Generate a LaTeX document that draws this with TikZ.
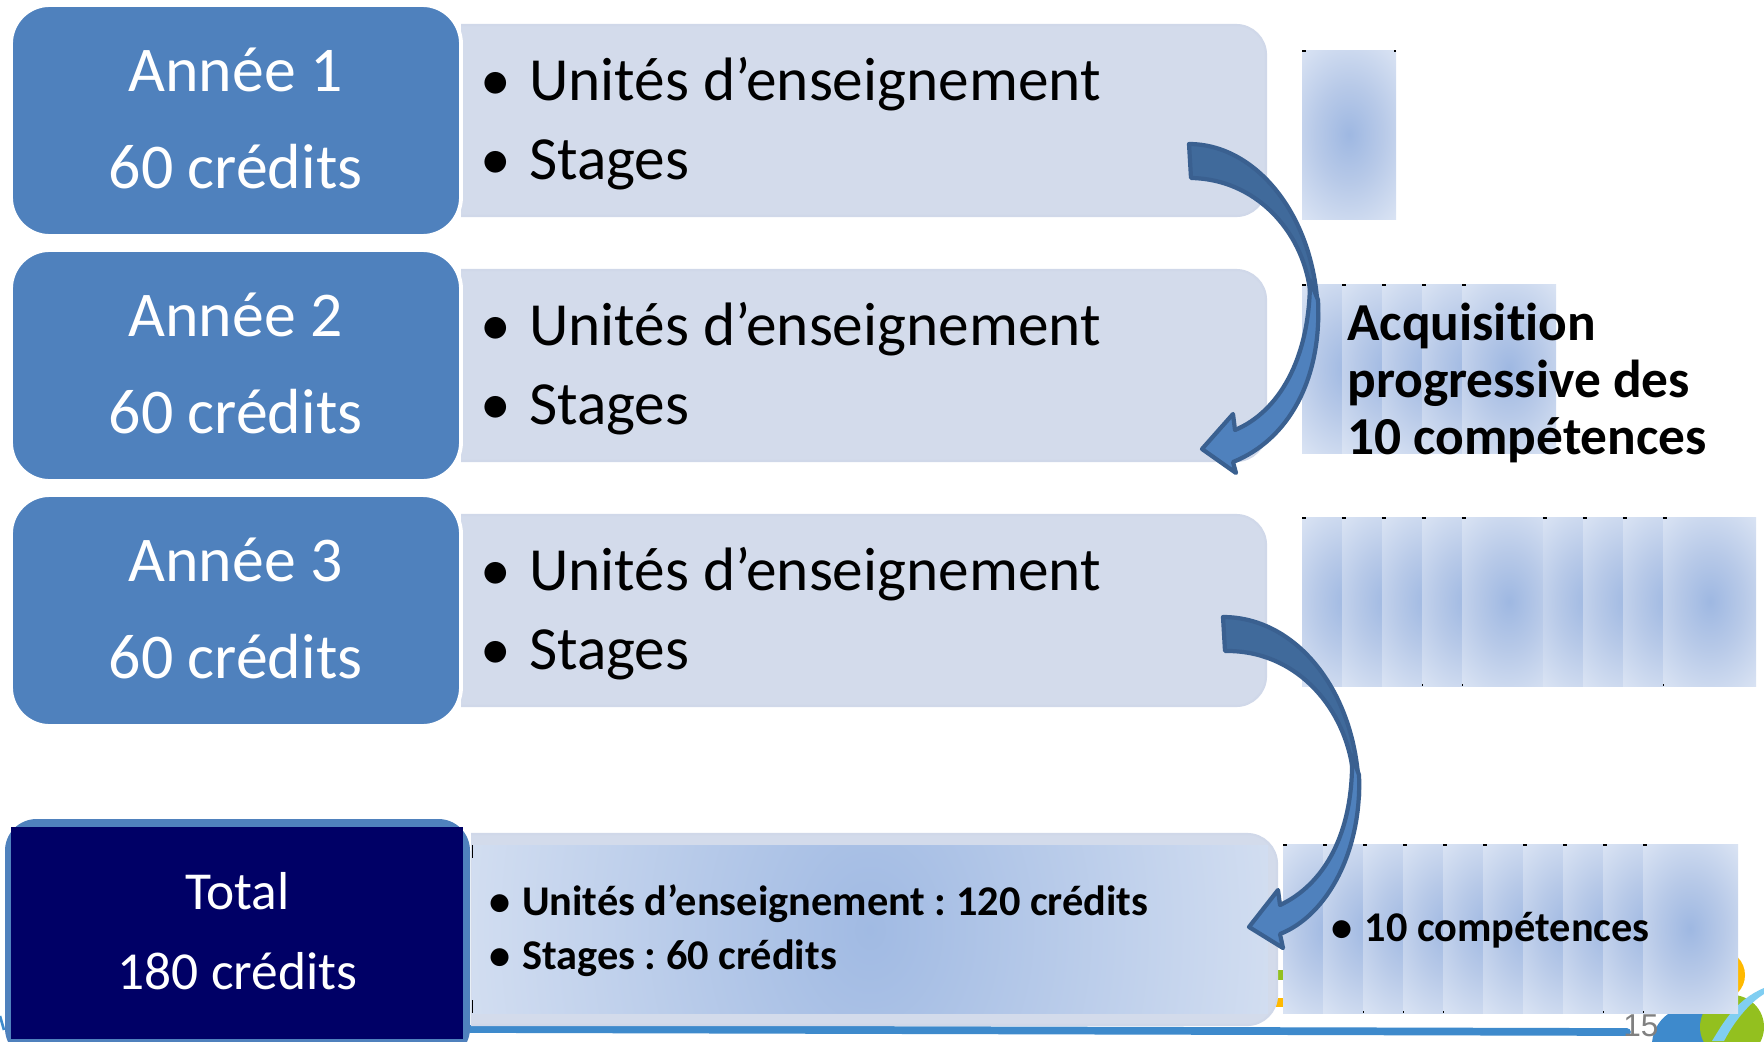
\documentclass[tikz,border=0pt]{standalone}
\usepackage{fontspec}
\setmainfont[Ligatures=NoCommon]{Carlito}
\newfontfamily\numfont{Liberation Sans}
\frenchspacing
\definecolor{boxblue}{HTML}{4F81BD}
\definecolor{navy}{HTML}{000066}
\definecolor{lightbox}{HTML}{D3DBEB}
\definecolor{lightedge}{HTML}{D0D8E9}
\definecolor{arrowedge}{HTML}{3A6090}
\definecolor{arrowdark}{HTML}{406A9B}
\definecolor{logoblue}{HTML}{3E8ACC}
\definecolor{logogreen}{HTML}{93C01F}
\definecolor{logoorange}{HTML}{FFB900}
\definecolor{logosky}{HTML}{80CEF2}
\pgfdeclareradialshading{patchgrad}{\pgfpoint{0bp}{0bp}}{rgb(0bp)=(0.62,0.72,0.885);rgb(14bp)=(0.72,0.79,0.91);rgb(35bp)=(0.885,0.915,0.965);rgb(90bp)=(0.885,0.915,0.965)}
\pgfdeclareradialshading{totalgrad}{\pgfpoint{0bp}{0bp}}{rgb(0bp)=(0.63,0.73,0.89);rgb(33bp)=(0.88,0.91,0.96);rgb(90bp)=(0.88,0.91,0.96)}
\tikzset{
  yearbox/.style={draw=white,line width=2.2pt,fill=boxblue,rounded corners=22pt},
  yeartext/.style={anchor=base,text=white,inner sep=0pt,font=\fontsize{36.3}{40}\selectfont},
  itemtext/.style={anchor=base west,inner sep=0pt,text=black,font=\fontsize{34.9}{40}\selectfont},
  totaltext/.style={anchor=base,text=white,inner sep=0pt,font=\fontsize{30.4}{36}\selectfont},
  boldtext/.style={anchor=base west,inner sep=0pt,text=black,font=\fontsize{24.1}{28}\selectfont\bfseries},
  acqtext/.style={anchor=base west,inner sep=0pt,text=black,font=\fontsize{30.4}{34}\selectfont\bfseries},
  arrowpart/.style={draw=arrowedge,line width=2.4pt,line join=round},
}
% one visible strip of a soft blue patch: left x, top y, right edge of the visible part
\newcommand{\patchstrip}[3]{%
  \begin{scope}
    \clip (#1,#2) rectangle (#3,#2+169);
    \shade[shading=patchgrad] (#1+47-60,#2-3) rectangle (#1+47+60,#2+172);
  \end{scope}
  \fill[black] (#1,#2) rectangle +(3.5,2);
}
\newcommand{\yearrow}[3]{% row offset, label, name
  \path[draw=lightedge,line width=1.2pt,fill=lightbox,rounded corners=17pt]
     (461,#1+25) -- (1266,#1+25) -- (1266,#1+216) -- (461,#1+216);
  \draw[yearbox] (11,#1+5) rectangle (461,#1+236);
  \node[yeartext] (y#3a) at (235.5,#1+91) {Année #2};
  \node[yeartext] (y#3b) at (235.5,#1+188) {60 crédits};
  \node[itemtext] (u#3) at (480,#1+100) {\makebox[27.8pt][l]{•}Unités d’enseignement};
  \node[itemtext] (s#3) at (480,#1+179) {\makebox[27.8pt][l]{•}Stages};
}
\begin{document}
\begin{tikzpicture}[x=0.02cm,y=-0.02cm]
\useasboundingbox (0,0) rectangle (1764,1041);
\fill[white] (0,0) rectangle (1764,1041);
\begin{scope}
\clip (0,0) rectangle (1764,1041);
% slide footer behind the content
\fill[logoorange] (1720,975) circle (25);
\fill[logoblue] (1690,1045) circle (38);
\fill[logogreen] (1732,1027) circle (32);
\fill[logosky] (1764,988) .. controls (1735,1000) and (1722,1025) .. (1712,1041) -- (1724,1041) .. controls (1734,1022) and (1748,1004) .. (1764,994) -- cycle;
\fill[logogreen] (1200,970) rectangle (1290,980);
\fill[logoorange] (1200,998) rectangle (1290,1007);
\draw[logoblue,line width=4.4pt,line cap=round] (470,1029) -- (1627,1032);
\node[anchor=base west,inner sep=0pt,text=black!50,font=\numfont\fontsize{18}{20}\selectfont] (pagenum) at (1623,1036) {15};
\draw[logoblue,line width=1.5pt] (0,1016) -- (4,1030);
% year rows
\yearrow{0}{1}{a}
\yearrow{245}{2}{b}
\yearrow{490}{3}{c}
% total row
\path[fill=boxblue,rounded corners=18pt] (5,819) rectangle (470,1060);
\fill[navy] (11,827) rectangle (463,1039);
\node[totaltext] (t1) at (237.5,909) {Total};
\node[totaltext] (t2) at (237.5,989) {180 crédits};
\path[fill=lightbox,draw=lightedge,line width=1.2pt,rounded corners=17pt] (471,834) -- (1277,834) -- (1277,1025) -- (471,1025);
\begin{scope}
  \clip (472,845) rectangle (1268,1013);
  \shade[shading=totalgrad] (472,420) rectangle (1268,1440);
\end{scope}
\fill[black] (471.5,845) rectangle +(1.5,13);
\fill[black] (471.5,1000) rectangle +(1.5,13);
\node[boldtext] (tu) at (489,915) {\makebox[18.7pt][l]{•}Unités d’enseignement : 120 crédits};
\node[boldtext] (ts) at (489,969) {\makebox[18.7pt][l]{•}Stages : 60 crédits};
% soft patches, row 1
\patchstrip{1302}{50}{1396}
\fill[black] (1394,50) rectangle +(2,2);
% row 2
\foreach \a/\b in {1302/1342,1342/1382,1382/1422,1422/1462,1462/1556}{\patchstrip{\a}{284}{\b}}
% row 3
\foreach \a/\b in {1302/1342,1342/1382,1382/1422,1422/1462,1462/1543,1543/1583,1583/1623,1623/1663,1663/1756}{\patchstrip{\a}{517}{\b}}
\foreach \a in {1422,1462,1663}{\fill[black] (\a,684) rectangle +(1.2,2);}
% row 4
\foreach \a/\b in {1283/1323,1323/1363,1363/1403,1403/1443,1443/1483,1483/1523,1523/1563,1563/1603,1603/1643,1643/1738}{\patchstrip{\a}{844}{\b}}
\foreach \a in {1363,1403,1443,1603,1643}{\fill[black] (\a,1011) rectangle +(1.2,2);}
% texts on the patches
\node[acqtext] (q1) at (1347,340) {Acquisition};
\node[acqtext] (q2) at (1347,397) {progressive des};
\node[acqtext] (q3) at (1347,454) {10 compétences};
\node[boldtext] (q4) at (1331,941) {\makebox[19pt][l]{•}10 compétences};
% first curved arrow
\fill[arrowdark,arrowpart] (1189,144) .. controls (1258,144) and (1318,220) .. (1318,320)
   -- (1310,290) .. controls (1302,230) and (1255,179) .. (1191,178) -- cycle;
\fill[boxblue,arrowpart] (1318,300) .. controls (1322,380) and (1288,440) .. (1233,462)
   -- (1236,473) -- (1202,449) -- (1233,414) -- (1235,430)
   .. controls (1278,412) and (1310,360) .. (1310,280) -- cycle;
% second curved arrow
\fill[arrowdark,arrowpart] (1223,617) .. controls (1298,617) and (1359,695) .. (1359,797)
   -- (1352,765) .. controls (1342,705) and (1295,650) .. (1225,651) -- cycle;
\fill[boxblue,arrowpart] (1359,775) .. controls (1362,850) and (1328,915) .. (1280,934)
   -- (1283,948) -- (1249,927) -- (1278,890) -- (1280,905)
   .. controls (1323,885) and (1354,835) .. (1352,755) -- cycle;
\end{scope}
\end{tikzpicture}
\end{document}
